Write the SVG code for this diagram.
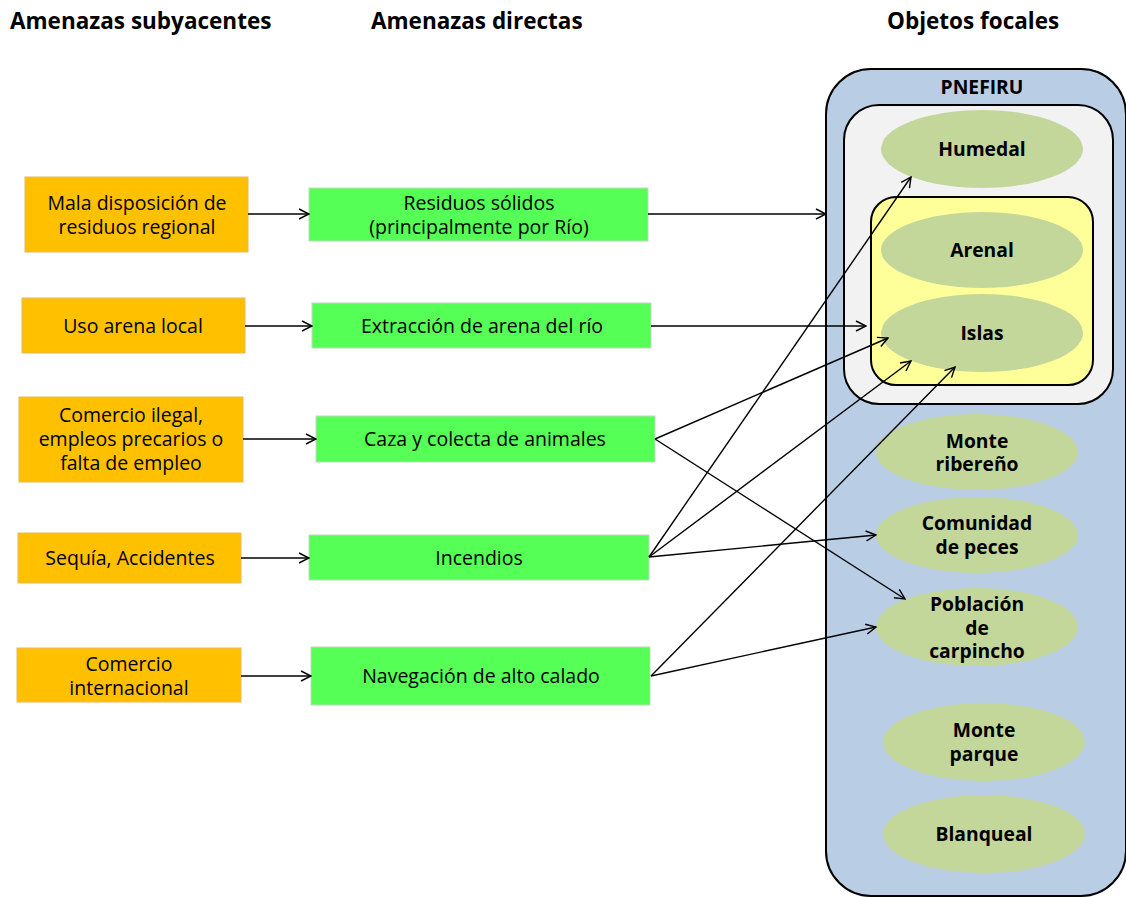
<svg xmlns="http://www.w3.org/2000/svg" width="1126" height="897" viewBox="0 0 1126 897">
<defs>
<style>
.h{font-family:"Open Sans","Noto Sans","DejaVu Sans",sans-serif;font-weight:bold;font-size:22.5px;fill:#000}
.t{font-family:"Open Sans","Noto Sans","DejaVu Sans",sans-serif;font-size:19.5px;fill:#000;text-anchor:middle}
.b{font-family:"Open Sans","Noto Sans","DejaVu Sans",sans-serif;font-weight:bold;font-size:19.3px;fill:#000;text-anchor:middle}
.or{fill:#FFC000;stroke:#E6B95C;stroke-width:1}
.gr{fill:#55FF55;stroke:#BFD9BF;stroke-width:1}
.el{fill:#C4D79B}
.c{stroke:#000;stroke-width:1.4;fill:none;marker-end:url(#a)}
</style>
<marker id="a" viewBox="0 0 12 12" refX="11" refY="6" markerWidth="12" markerHeight="12" markerUnits="userSpaceOnUse" orient="auto">
<path d="M1,1 L11,6 L1,11" fill="none" stroke="#000" stroke-width="1.4"/>
</marker>
</defs>
<rect width="1126" height="897" fill="#fff"/>
<g id="headers">
<text class="h" x="10" y="29">Amenazas subyacentes</text>
<text class="h" x="371" y="29">Amenazas directas</text>
<text class="h" x="887" y="29">Objetos focales</text>
</g>
<g id="pnefiru">
<rect x="826" y="69" width="300" height="827" rx="45" fill="#B9CDE5" stroke="#000" stroke-width="2"/>
<text class="b" x="982" y="94">PNEFIRU</text>
</g>
<g id="grupo-gris">
<rect x="844" y="105" width="269" height="299" rx="35" fill="#F2F2F2" stroke="#000" stroke-width="2"/>
</g>
<g id="grupo-amarillo">
<rect x="871" y="197" width="222" height="188" rx="25" fill="#FFFF99" stroke="#000" stroke-width="2"/>
</g>
<g id="humedal"><ellipse class="el" cx="982" cy="149" rx="101" ry="39"/><text class="b" x="982" y="156">Humedal</text></g>
<g id="arenal"><ellipse class="el" cx="982" cy="250" rx="101" ry="38"/><text class="b" x="982" y="257">Arenal</text></g>
<g id="islas"><ellipse class="el" cx="982" cy="333" rx="101" ry="39"/><text class="b" x="982" y="340">Islas</text></g>
<g id="monte-ribereno"><ellipse class="el" cx="977" cy="452" rx="101" ry="38"/><text class="b" x="977" y="448">Monte</text><text class="b" x="977" y="471">ribereño</text></g>
<g id="comunidad-peces"><ellipse class="el" cx="977" cy="535" rx="101" ry="38"/><text class="b" x="977" y="530">Comunidad</text><text class="b" x="977" y="554">de peces</text></g>
<g id="poblacion-carpincho"><ellipse class="el" cx="977" cy="627" rx="101" ry="39"/><text class="b" x="977" y="611">Población</text><text class="b" x="977" y="635">de</text><text class="b" x="977" y="658">carpincho</text></g>
<g id="monte-parque"><ellipse class="el" cx="984" cy="742" rx="101" ry="39"/><text class="b" x="984" y="737">Monte</text><text class="b" x="984" y="761">parque</text></g>
<g id="blanqueal"><ellipse class="el" cx="984" cy="834" rx="101" ry="39"/><text class="b" x="984" y="841">Blanqueal</text></g>

<g id="mala-disposicion"><rect class="or" x="25" y="177" width="223" height="75"/><text class="t" x="137" y="210">Mala disposición de</text><text class="t" x="137" y="234">residuos regional</text></g>
<g id="uso-arena"><rect class="or" x="22" y="298" width="223" height="55"/><text class="t" x="133" y="333">Uso arena local</text></g>
<g id="comercio-ilegal"><rect class="or" x="19" y="397" width="224" height="85"/><text class="t" x="131" y="422">Comercio ilegal,</text><text class="t" x="131" y="446">empleos precarios o</text><text class="t" x="131" y="470">falta de empleo</text></g>
<g id="sequia"><rect class="or" x="18" y="533" width="223" height="50"/><text class="t" x="130" y="565">Sequía, Accidentes</text></g>
<g id="comercio-internacional"><rect class="or" x="17" y="648" width="224" height="54"/><text class="t" x="129" y="671">Comercio</text><text class="t" x="129" y="695">internacional</text></g>

<g id="residuos"><rect class="gr" x="309" y="188" width="339" height="53"/><text class="t" x="479" y="210">Residuos sólidos</text><text class="t" x="479" y="234">(principalmente por Río)</text></g>
<g id="extraccion"><rect class="gr" x="312" y="303" width="339" height="45"/><text class="t" x="482" y="333">Extracción de arena del río</text></g>
<g id="caza"><rect class="gr" x="316" y="416" width="339" height="46"/><text class="t" x="485" y="446">Caza y colecta de animales</text></g>
<g id="incendios"><rect class="gr" x="309" y="535" width="340" height="45"/><text class="t" x="479" y="565">Incendios</text></g>
<g id="navegacion"><rect class="gr" x="311" y="647" width="339" height="58"/><text class="t" x="481" y="683">Navegación de alto calado</text></g>

<g id="connectors">
<line class="c" x1="248" y1="214" x2="309" y2="214"/>
<line class="c" x1="245" y1="326" x2="312" y2="326"/>
<line class="c" x1="243" y1="439" x2="316" y2="439"/>
<line class="c" x1="241" y1="558" x2="309" y2="558"/>
<line class="c" x1="241" y1="676" x2="311" y2="676"/>
<line class="c" x1="648" y1="214" x2="826" y2="214"/>
<line class="c" x1="651" y1="326" x2="866" y2="326"/>
<line class="c" x1="655" y1="439" x2="888" y2="338"/>
<line class="c" x1="655" y1="439" x2="905" y2="599"/>
<line class="c" x1="649" y1="557" x2="911" y2="177"/>
<line class="c" x1="649" y1="557" x2="911" y2="361"/>
<line class="c" x1="649" y1="557" x2="876" y2="535"/>
<line class="c" x1="651" y1="676" x2="955" y2="367"/>
<line class="c" x1="651" y1="676" x2="876" y2="627"/>
</g>
</svg>
